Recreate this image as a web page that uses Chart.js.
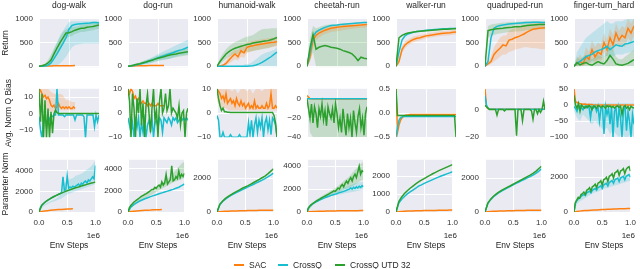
<!DOCTYPE html>
<html><head><meta charset="utf-8">
<script src="https://cdn.jsdelivr.net/npm/chart.js@4"></script>
<style>
body{margin:0;width:640px;height:269px;position:relative;background:#fff;font-family:"Liberation Sans",Arial,Helvetica,sans-serif;color:#262626;overflow:hidden}
canvas{position:absolute}
.t{position:absolute;font-size:8.5px;line-height:10px;white-space:nowrap;transform:translateX(-50%)}
.r{position:absolute;font-size:8.5px;line-height:10px;white-space:nowrap;transform:translate(-50%,-50%) rotate(-90deg)}
.o{position:absolute;font-size:8px;line-height:10px;white-space:nowrap;transform:translateX(-100%)}
.lg{position:absolute;font-size:8.5px;line-height:10px;white-space:nowrap}
.lg i{display:inline-block;width:10px;height:2px;vertical-align:middle;margin-right:5px;position:relative;top:-1px}
</style></head><body>
<script>
// ---------- categories / labels ----------
var TASKS = ['dog-walk','dog-run','humanoid-walk','cheetah-run','walker-run','quadruped-run','finger-turn_hard'];
var KEYS = ['dw','dr','hw','cr','wr','qr','ft'];
var ROWS = ['R','B','P'];
var ROW_LABELS = ['Return','Avg. Norm Q Bias','Parameter Norm'];
var SERIES_NAMES = ['SAC','CrossQ','CrossQ UTD 32'];
var SERIES_KEYS = ['S','C','U'];
var XLABEL = 'Env Steps';
var XOFFSET = '1e6';
var X_TICKS = [0,0.5,1];
// env steps (in 1e6)
var STEPS21 = [0,0.05,0.1,0.15,0.2,0.25,0.3,0.35,0.4,0.45,0.5,0.55,0.6,0.65,0.7,0.75,0.8,0.85,0.9,0.95,1];
var STEPS41 = [0,0.025,0.05,0.075,0.1,0.125,0.15,0.175,0.2,0.225,0.25,0.275,0.3,0.325,0.35,0.375,0.4,0.425,0.45,0.475,0.5,0.525,0.55,0.575,0.6,0.625,0.65,0.675,0.7,0.725,0.75,0.775,0.8,0.825,0.85,0.875,0.9,0.925,0.95,0.975,1];

// ---------- y axes per row ----------
var YMIN_R = [-20,-20,-20,-20,-20,-20,-20];
var YMAX_R = [1000,1000,1000,1000,1000,1000,1000];
var YTICKS_R = [[0,500,1000],[0,500,1000],[0,500,1000],[0,500,1000],[0,500,1000],[0,500,1000],[0,500,1000]];
var YMIN_B = [-14.5,-10,-10,-40,-0.5,-20,-100];
var YMAX_B = [15,10,10,11,0.5,15,50];
var YTICKS_B = [[-10,0,10],[-10,0,10],[-10,0,10],[-40,-20,0],[-0.5,0,0.5],[-20,0],[-100,-50,0,50]];
var YMIN_P = [0,0,0,0,0,0,0];
var YMAX_P = [5050,4850,3080,4560,2920,3080,3000];
var YTICKS_P = [[0,2000,4000],[0,2000,4000],[0,2000],[0,2000,4000],[0,1000,2000],[0,2000],[0,2000]];

// ---------- Return ----------
var R_dw_S = [0,2,5,5,6,8,8,10,10,12,12,12,14];
var R_dw_C = [0,0,5,20,70,160,260,370,480,600,780,860,880,890,895,900,905,910,920,920,910];
var R_dw_C_lo = [0,0,0,0,0,0,20,60,120,200,300,400,450,460,470,480,480,480,480,480,480];
var R_dw_C_hi = [0,5,30,80,200,350,500,650,750,850,930,950,950,950,950,950,950,950,950,950,950];
var R_dw_U = [0,10,30,70,130,260,380,500,600,700,705,730,760,780,800,800,820,830,840,855,870];
var R_dw_U_lo = [0,0,10,30,60,150,250,380,480,580,620,640,680,700,720,720,740,750,760,780,790];
var R_dw_U_hi = [0,30,60,130,250,380,500,620,720,780,800,820,840,850,870,880,890,900,910,920,930];

var R_dr_S = [0,3,6,8,10,12,13,14,15,16,17,18,18];
var R_dr_C = [0,5,15,30,45,65,85,110,130,155,180,200,220,245,265,285,310,335,350,375,400];
var R_dr_C_lo = [0,0,5,10,20,30,40,55,70,90,110,120,130,150,160,180,200,220,230,240,250];
var R_dr_C_hi = [0,10,30,55,75,100,130,160,190,220,260,290,320,350,380,410,440,470,500,530,560];
var R_dr_U = [0,10,25,40,55,75,90,110,125,150,170,185,200,220,235,250,260,275,285,295,305];
var R_dr_U_lo = [0,0,10,20,30,45,55,70,80,100,115,130,140,150,165,180,190,200,210,220,230];
var R_dr_U_hi = [0,20,45,65,85,110,130,150,175,200,225,245,265,285,300,320,335,350,360,370,380];

var R_hw_S = [0,5,20,60,130,200,260,200,330,280,400,420,430,450,460,470,480,490,500,505,515];
var R_hw_S_lo = [0,0,5,20,60,100,150,120,200,180,280,300,320,340,350,370,380,390,400,410,420];
var R_hw_S_hi = [0,15,50,120,210,300,350,330,440,420,500,520,530,550,560,570,580,590,600,600,610];
var R_hw_C = [0,0,0,0,0,0,0,0,0,0,0,5,10,25,50,80,120,160,200,250,300];
var R_hw_C_lo = [0,0,0,0,0,0,0,0,0,0,0,0,0,0,0,0,0,0,0,0,0];
var R_hw_C_hi = [0,0,0,0,0,0,0,20,10,30,50,60,100,150,200,250,280,300,320,350,400];
var R_hw_U = [0,100,180,260,310,350,380,400,420,440,460,470,490,500,510,520,530,540,560,580,610];
var R_hw_U_lo = [0,40,100,150,200,230,250,260,270,290,300,310,320,330,350,360,370,380,400,420,440];
var R_hw_U_hi = [0,170,270,360,420,470,510,540,570,600,620,640,660,700,750,780,790,790,800,800,800];

var R_cr_S = [0,200,550,650,700,730,760,780,800,810,820,830,840,845,850,855,860,865,870,875,880];
var R_cr_S_lo = [0,100,400,550,600,650,680,700,720,730,740,750,760,770,780,790,800,800,810,810,820];
var R_cr_S_hi = [0,300,650,750,780,800,820,840,860,870,880,890,900,900,910,910,920,920,930,930,940];
var R_cr_C = [0,300,620,720,760,790,820,840,860,865,870,880,885,890,895,900,905,910,915,920,920];
var R_cr_U = [0,380,670,360,400,420,436,420,400,390,380,360,330,310,290,260,200,120,190,170,160];
var R_cr_U_lo = [0,100,300,0,0,0,0,0,0,0,0,0,0,0,0,0,0,0,0,0,0];
var R_cr_U_hi = [0,600,850,800,820,850,870,880,880,880,880,880,880,880,880,880,870,860,860,860,860];

var R_wr_S = [0,100,350,450,500,540,570,590,600,620,640,650,660,670,680,690,695,700,705,715,720];
var R_wr_S_lo = [0,50,280,380,440,480,510,530,550,570,590,600,610,620,630,640,645,650,655,665,670];
var R_wr_S_hi = [0,150,420,520,560,600,630,650,660,670,690,700,710,720,730,740,745,750,755,765,770];
var R_wr_C = [0,300,550,640,680,700,720,730,740,750,760,765,770,775,780,785,790,792,795,798,800];
var R_wr_U = [0,600,650,680,700,710,720,730,740,745,750,755,760,765,770,775,780,782,785,788,790];

var R_qr_S = [0,50,100,250,320,380,450,430,550,570,600,620,650,680,720,750,780,790,800,805,810];
var R_qr_S_lo = [0,20,50,100,150,200,250,250,300,320,350,370,380,400,400,390,380,380,370,360,360];
var R_qr_S_hi = [0,100,200,400,500,600,650,650,750,780,800,820,850,870,880,890,900,910,920,920,920];
var R_qr_C = [0,100,600,800,840,860,870,880,890,895,900,905,910,915,920,920,925,925,925,920,920];
var R_qr_U = [0,750,770,780,790,795,800,810,815,820,830,835,840,850,860,865,870,875,880,880,880];
var R_qr_U_lo = [0,600,650,660,680,690,700,710,720,720,730,730,740,750,760,760,770,770,780,780,780];
var R_qr_U_hi = [0,850,880,890,900,910,920,920,930,930,940,940,940,950,950,950,950,950,950,950,950];

var R_ft_S = [0,50,100,50,200,150,350,200,300,250,500,350,600,450,700,550,650,600,800,700,850];
var R_ft_S_lo = [0,0,20,0,50,30,150,80,150,100,300,200,400,300,500,400,450,400,600,500,650];
var R_ft_S_hi = [0,150,250,150,400,300,550,400,500,450,700,550,800,650,900,750,850,800,1000,900,1000];
var R_ft_C = [0,60,100,150,200,230,250,300,330,350,380,420,350,400,450,430,420,470,480,500,520];
var R_ft_C_lo = [0,0,0,20,50,80,100,120,150,170,200,220,180,200,250,250,240,270,280,300,320];
var R_ft_C_hi = [0,300,400,500,600,650,700,750,800,850,900,950,900,900,950,950,950,980,1000,1000,1000];
var R_ft_U = [0,80,30,60,80,40,20,60,100,70,50,120,230,150,50,30,20,40,60,100,140];
var R_ft_U_lo = [0,0,0,0,0,0,0,0,0,0,0,0,0,0,0,0,0,0,0,0,0];
var R_ft_U_hi = [0,200,150,200,250,200,150,200,250,200,200,300,450,350,200,150,150,200,250,300,350];

// ---------- Avg. Norm Q Bias ----------
var B_dw_S = [15,14,12,10,11,9,10,8,5,4,5,3,4,6,4,3,4,3,4,3,4,3,3,4,3];
var B_dw_S_lo = [10,5,3,2,1,1,1,2,2,2,2,2,2];
var B_dw_S_hi = [15,15,15,15,13,12,12,12,11,8,8,7,7];
var B_dw_C = [-2,-10,-15,-5,-3,-8,-2,-4,-1,-2,-1,-1,15,-1,-1,-1,-1,-2,-1,-1,-1,-1,-1,-1,-4,-1,-1,-1,-1,-1,-2,-15,-1,-1,-1,-1,-1,-8,-1,-5,-1];
var B_dw_U = [15,-5,12,-15,8,-15,3,-15,1,-12,0,2,0.5,0,0,0,0,0,0,0,0,0,0,0,0,0,0,0,0,0,0,0,0,0,0,0,0,0,0,0,0];

var B_dr_S = [10,8,10,9,6,7,5,6,5,4,5,4,4,3,4,3,4,3,3,3,4,3,3,3,3];
var B_dr_C = [-2,-5,-8,-4,-10,-3,-6,-2,-10,-4,-8,-3,-10,-5,-3,-7,-2,-10,-4,-3,-6,-2,-3,-8,-2,-3,-4,-2,-3,-5,-2,-3,-2,-4,-3,-2,-3,-2,-3,-2,-3];
var B_dr_U = [10,5,-10,8,2,-10,6,0,10,-5,4,-10,3,8,0,-8,2,10,-3,1,-10,5,10,0,2,8,1,3,10,0,2,1,0,-2,3,-5,0,1,-10,0,2];

var B_hw_S = [10,9,8,6,7,5,8,4,5,6,4,5,3,6,4,3,5,3,4,2,3,4,2,3,2,5,2,3,2,2,3,2,2,4,2,3,8,2,2,3,2];
var B_hw_S_lo = [5,3,2,2,1,1,1,1,1,1,1,1,1,1,1,1,1,1,1,1,1];
var B_hw_S_hi = [10,10,10,10,10,9,10,8,10,10,9,10,8,10,10,9,10,10,10,10,10];
var B_hw_C = [-1,-3,-10,-10,-8,-10,-10,-10,-10,-9,-10,-10,-10,-10,-10,-9,-10,-10,-10,-10,-10,-4,-9,-3,-10,-5,-2,-8,-3,-6,-2,-10,-4,-2,-7,-3,-9,-2,-3,-5,-10];
var B_hw_U = [10,6,3,1,2,0.5,0.5,0.3,0.3,0.2,0.2,0.2,0.2,0.2,0.2,0.2,0.2,0.2,0.2,0.2,0.2,0.2,0.2,0.2,0.2,0.2,0.2,0.2,0.2,0.2,0.2,0.2,0.2,0.2,0.2,0.2,0.2,0.2,-1,-4,-10];

var B_cr_S = [4,0.5,0.3,0.2,0.2,0.2,0.2,0.2,0.2,0.2,0.2,0.2,0.2,0.2,0.2,0.2,0.2,0.2,0.2,0.2,0.2];
var B_cr_C = [0.5,0.5,0.5,0.5,0.5,0.5,0.5,0.5,0.5,0.5,0.5,0.5,0.5,0.5,0.5,0.5,0.5,0.5,0.5,0.5,0.5];
var B_cr_U = [0,-10,-20,-5,-25,-8,-15,-30,-10,-18,-5,-22,-12,-28,-8,-15,-20,-10,-25,-5,-15,-30,-20,-35,-10,-25,-38,-15,-30,-20,-40,-12,-25,-35,-18,-10,-30,-20,-38,-15,-8];
var B_cr_U_lo = [0,-35,-40,-40,-40,-40,-40,-40,-40,-40,-40,-40,-40,-40,-40,-40,-40,-40,-40,-40,-40];
var B_cr_U_hi = [5,0,0,0,0,0,0,0,0,0,0,0,0,0,0,0,0,0,0,0,0];

var B_wr_S = [0.5,-0.4,-0.25,-0.15,-0.1,-0.07,-0.05,-0.04,-0.04,-0.03,-0.03,-0.03,-0.03,-0.03,-0.03,-0.03,-0.03,-0.03,-0.03,-0.03,-0.03,-0.03,-0.03,-0.03,-0.03,-0.03,-0.03,-0.03,-0.03,-0.03,-0.03,-0.03,-0.03,-0.03,-0.03,-0.03,-0.03,-0.03,-0.03,-0.03,-0.03];
var B_wr_C = [-0.5,-0.3,-0.15,-0.1,-0.08,-0.07,-0.07,-0.07,-0.07,-0.07,-0.07,-0.07,-0.07,-0.07,-0.07,-0.07,-0.07,-0.07,-0.07,-0.07,-0.07,-0.07,-0.07,-0.07,-0.07,-0.07,-0.07,-0.07,-0.07,-0.07,-0.07,-0.07,-0.07,-0.07,-0.07,-0.07,-0.07,-0.07,-0.07,-0.07,-0.07];
var B_wr_U = [0.5,-0.05,-0.05,-0.05,-0.05,-0.05,-0.05,-0.05,-0.05,-0.05,-0.05,-0.05,-0.05,-0.05,-0.05,-0.05,-0.05,-0.05,-0.05,-0.05,-0.05,-0.05,-0.05,-0.05,-0.05,-0.05,-0.05,-0.05,-0.05,-0.05,-0.05,-0.05,-0.05,-0.05,-0.05,-0.05,-0.05,-0.05,-0.05,-0.05,-0.5];

var B_qr_S = [15,2,0.5,0.3,0.2,0.2,0.2,0.2,0.2,0.2,0.2,0.2,0.2,0.2,0.2,0.2,0.2,0.2,0.2,0.2,0.2,0.2,0.2,0.2,0.2,0.2,0.2,0.2,0.2,0.2,0.2,0.2,0.2,0.2,0.2,0.2,0.2,0.2,0.2,0.2,0.2];
var B_qr_C = [10,3,1,0.2,0.2,0.2,0.2,0.2,0.2,0.2,0.2,0.2,0.2,0.2,0.2,0.2,0.2,0.2,0.2,0.2,0.2,0.2,0.2,0.2,0.2,0.2,0.2,0.2,0.2,0.2,0.2,0.2,0.2,0.2,0.2,0.2,0.2,0.2,0.2,0.2,0.2];
var B_qr_U = [3,2,1,0,0,0,0,0,-4,0,0,0,0,-1,0,0,0,0,0,0,0,-19,0,0,0,-8,0,0,0,0,0,-1,-7,0,0,-3,0,-2,0,6,0];

var B_ft_S = [50,10,8,5,4,3,2,3,2,1,2,1,1,0,0,0,0,0,0,0,0,0,0,0,0,0,0,0,0,0,0,0,0,0,0,0,0,0,0,0,0];
var B_ft_C = [-5,-10,-20,-5,-3,-8,-15,-5,-10,-3,-5,-40,-5,-10,-3,-20,-5,-50,-10,-8,-90,-5,-30,-10,-60,-5,-100,-20,-8,-70,-10,-40,-100,-15,-5,-80,-20,-50,-100,-30,-60];
var B_ft_C_lo = [-20,-40,-50,-30,-40,-50,-60,-50,-60,-70,-80,-70,-90,-80,-90,-100,-90,-100,-100,-90,-100];
var B_ft_C_hi = [10,5,5,5,5,5,5,5,5,5,5,5,5,5,5,5,5,5,5,5,5];
var B_ft_U = [30,0,-10,5,-20,0,-5,-10,-3,-8,-2,-5,-15,-3,-5,-10,-2,-4,-8,-3,-5,-10,-2,-6,-3,-8,-4,-10,-5,-3,-8,-4,-30,-6,-3,-10,-5,-15,-4,-8,-10];

// ---------- Parameter Norm ----------
var P_dw_S = [0,60,100,130,160,190,210,230,250,270,285,300,310];
var P_dw_C = [0,450,650,800,920,1030,1120,1200,1300,1380,1450,1520,1590,1650,1720,1780,1900,3400,2100,2200,3500,2300,2400,2350,2500,2400,2500,2600,2700,2500,2800,2700,2900,3000,2800,3100,3000,3200,3400,3200,4500];
var P_dw_C_lo = [0,400,600,750,900,1000,1100,1200,1300,1500,1700,1800,1900,2000,2100,2200,2300,2400,2500,2600,2700];
var P_dw_C_hi = [0,550,750,900,1050,1150,1300,1500,1800,2800,3000,3200,3300,3500,3600,3700,3900,4100,4300,4600,5000];
var P_dw_U = [0,650,920,1120,1300,1450,1590,1720,1830,1950,2050,2150,2250,2340,2420,2510,2590,2670,2750,2820,2900];

var P_dr_S = [0,50,80,100,120,140,160,170,180,200,210,220,230];
var P_dr_C = [0,450,680,850,1000,1120,1230,1330,1430,1520,1600,1690,1780,1860,1940,2020,2100,2200,2300,2450,2600];
var P_dr_U = [0,400,600,750,900,1000,1100,1200,1300,1400,1500,1550,1650,1700,1800,1900,2000,2100,2100,2300,2200,2400,2500,2300,2800,2500,2700,3500,2600,2800,3000,4300,2900,3000,3300,3100,3800,3200,3500,3300,3600];
var P_dr_U_lo = [0,350,550,750,950,1100,1250,1400,1550,1700,1850,2000,2150,2300,2450,2600,2750,2850,2950,3050,3150];
var P_dr_U_hi = [0,500,800,1050,1250,1450,1600,1800,1950,2100,2300,2500,2700,2900,3100,3300,3600,3900,4200,4500,4700];

var P_hw_S = [0,20,30,40,50,55,60,65,70,75,80,85,90,92,95,98,100,102,105,108,110];
var P_hw_C = [0,430,620,760,880,980,1070,1160,1240,1320,1400,1480,1560,1640,1720,1800,1880,1970,2070,2180,2300];
var P_hw_U = [0,450,650,800,920,1030,1130,1220,1310,1400,1480,1560,1650,1740,1830,1920,2020,2120,2250,2400,2550];

var P_cr_S = [0,20,40,50,60,70,75,80,85,90,95,100,100,105,110,110,115,120,120,125,130];
var P_cr_C = [0,350,500,600,700,780,850,920,980,1040,1100,1160,1210,1260,1310,1360,1400,1450,1490,1520,1560,1600,1650,1700,1720,1760,1800,1850,1900,1950,2000,2100,2000,2150,2050,2200,2100,2250,2150,2300,2200];
var P_cr_C_lo = [0,300,600,800,950,1050,1150,1250,1350,1400,1450,1500,1550,1600,1650,1700,1750,1800,1850,1900,1950];
var P_cr_C_hi = [0,500,800,1000,1150,1300,1450,1550,1650,1750,1800,1900,2000,2100,2200,2300,2400,2500,2550,2600,2650];
var P_cr_U = [0,350,520,640,740,830,910,990,1060,1130,1200,1270,1340,1400,1470,1540,1600,1700,1750,1850,1800,1950,2100,2000,2250,2400,2200,2500,2700,2500,2800,3000,2700,3100,3300,3000,3500,4000,3300,3600,3500];
var P_cr_U_lo = [0,300,600,850,1000,1150,1250,1350,1450,1550,1650,1750,1850,1950,2050,2150,2250,2400,2550,2700,2850];
var P_cr_U_hi = [0,450,800,1000,1200,1350,1500,1650,1800,1950,2100,2300,2500,2700,2900,3100,3400,3700,3900,4200,4400];

var P_wr_S = [0,20,30,40,50,55,60,65,70,75,80,80,85,90,90,95,95,100,100,105,110];
var P_wr_C = [0,500,710,870,1010,1130,1230,1330,1450,1520,1600,1670,1740,1810,1880,1950,2010,2070,2130,2190,2250];
var P_wr_U = [0,590,840,1030,1190,1330,1450,1570,1680,1780,1870,1960,2050,2140,2220,2300,2370,2440,2510,2580,2650];

var P_qr_S = [0,20,30,40,50,55,60,65,70,75,80,85,90,92,95,98,100,102,105,108,110];
var P_qr_C = [0,500,730,900,1030,1150,1250,1340,1430,1510,1600,1690,1770,1850,1930,2010,2090,2180,2280,2400,2550];
var P_qr_U = [0,520,760,930,1070,1190,1290,1380,1470,1550,1640,1730,1820,1910,2000,2090,2180,2280,2400,2550,2700];

var P_ft_S = [0,30,50,70,80,90,100,110,120,130,140,150,155,160,170,175,180,185,190,195,200];
var P_ft_C = [0,500,650,750,800,900,950,1000,950,1100,1150,1200,1100,1250,1300,1350,1250,1400,1450,1500,1350,1550,1600,1650,1500,1700,1750,1800,1650,1850,1900,1950,1750,1950,2000,2050,1850,2050,2100,2150,2000];
var P_ft_C_lo = [0,450,600,700,800,900,1000,1100,1150,1200,1300,1350,1400,1450,1500,1550,1600,1650,1700,1750,1800];
var P_ft_C_hi = [0,650,850,1000,1100,1200,1300,1400,1500,1600,1700,1750,1800,1850,1900,1950,2000,2050,2100,2150,2200];
var P_ft_U = [0,550,700,850,800,1000,1050,1150,1000,1250,1300,1400,1200,1450,1500,1600,1400,1650,1700,1800,1550,1850,1900,2000,1750,2050,2100,2200,1950,2250,2300,2400,2100,2350,2400,2500,2200,2450,2550,2600,2350];

// ---------- styling / layout ----------
var COLORS = ['#ff7f0e','#17becf','#2ca02c'];
var BANDS = ['rgba(255,127,14,0.2)','rgba(23,190,207,0.2)','rgba(44,160,44,0.2)'];
var PLOT_L = [39,128,217,307,396,485,574], PLOT_W = 60;
var PLOT_T = [14,84,155], PLOT_H = [58,58,57];
var YAXIS_W = 36, PAD_T = 6, PAD_R = 8;
var XAXIS_H = [0,0,20], PAD_B = [6,6,0];

Chart.defaults.font.family = '"Liberation Sans", Arial, Helvetica, sans-serif';
Chart.defaults.font.size = 8;
Chart.defaults.color = '#333';

var bgPlugin = {id:'bg', beforeDraw: function(c){
  var a = c.chartArea, x = c.ctx; x.save(); x.fillStyle = '#EAEAF2';
  x.fillRect(a.left, a.top, a.right - a.left, a.bottom - a.top); x.restore();
}};

function pts(arr){ var st = arr.length > 21 ? STEPS41 : STEPS21; return arr.map(function(y,i){ return {x: st[i], y: y}; }); }
function fmt(v, r, c){
  var s = (r === 1 && KEYS[c] === 'wr') ? v.toFixed(1) : String(v);
  return s.replace('-', '\u2212');
}

function addText(cls, txt, left, top){
  var d = document.createElement('div'); d.className = cls; d.textContent = txt;
  d.style.left = left + 'px'; d.style.top = top + 'px'; document.body.appendChild(d); return d;
}

var YMIN = [YMIN_R, YMIN_B, YMIN_P], YMAX = [YMAX_R, YMAX_B, YMAX_P], YTICKS = [YTICKS_R, YTICKS_B, YTICKS_P];

for (var r = 0; r < 3; r++) {
  for (var c = 0; c < 7; c++) {
    (function(r, c){
      var cv = document.createElement('canvas');
      var W = YAXIS_W + PLOT_W + PAD_R, H = PAD_T + PLOT_H[r] + XAXIS_H[r] + PAD_B[r];
      cv.width = W; cv.height = H; cv.style.width = W + 'px'; cv.style.height = H + 'px';
      cv.style.left = (PLOT_L[c] - YAXIS_W) + 'px'; cv.style.top = (PLOT_T[r] - PAD_T) + 'px';
      document.body.appendChild(cv);
      var datasets = [];
      SERIES_KEYS.forEach(function(s, si){
        var base = ROWS[r] + '_' + KEYS[c] + '_' + s;
        var lo = window[base + '_lo'], hi = window[base + '_hi'];
        if (lo && hi) {
          datasets.push({data: pts(lo), borderWidth: 0, borderColor: 'rgba(0,0,0,0)', pointRadius: 0, fill: false, order: 10 + si});
          datasets.push({data: pts(hi), borderWidth: 0, borderColor: 'rgba(0,0,0,0)', pointRadius: 0, fill: '-1', backgroundColor: BANDS[si], order: 10 + si});
        }
      });
      SERIES_KEYS.forEach(function(s, si){
        var arr = window[ROWS[r] + '_' + KEYS[c] + '_' + s];
        if (arr) datasets.push({label: SERIES_NAMES[si], data: pts(arr), borderColor: COLORS[si], borderWidth: 1.5, pointRadius: 0, fill: false, order: 3 - si});
      });
      var yt = YTICKS[r][c];
      new Chart(cv, {
        type: 'line',
        data: {datasets: datasets},
        plugins: [bgPlugin],
        options: {
          responsive: false, animation: false, events: [],
          layout: {padding: {top: PAD_T, right: PAD_R, bottom: PAD_B[r], left: 0}},
          plugins: {legend: {display: false}, tooltip: {enabled: false}},
          elements: {point: {radius: 0}, line: {tension: 0}},
          scales: {
            x: {type: 'linear', min: 0, max: 1, border: {display: false},
                grid: {color: '#ffffff', lineWidth: 1, drawTicks: false},
                ticks: {display: r === 2, padding: 6, maxRotation: 0, color: '#333', callback: function(v){ return v.toFixed(1); }},
                afterBuildTicks: function(s){ s.ticks = X_TICKS.map(function(v){ return {value: v}; }); },
                afterFit: function(s){ s.height = XAXIS_H[r]; }},
            y: {type: 'linear', min: YMIN[r][c], max: YMAX[r][c], border: {display: false},
                grid: {color: '#ffffff', lineWidth: 1, drawTicks: false},
                ticks: {padding: 6, color: '#333', callback: function(v){ return fmt(v, r, c); }},
                afterBuildTicks: function(s){ s.ticks = yt.map(function(v){ return {value: v}; }); },
                afterFit: function(s){ s.width = YAXIS_W; }}
          }
        }
      });
    })(r, c);
  }
}

// titles, axis labels
TASKS.forEach(function(t, c){
  addText('t', t, PLOT_L[c] + PLOT_W / 2, 0);
  addText('t', XLABEL, PLOT_L[c] + PLOT_W / 2, 240);
  addText('o', XOFFSET, PLOT_L[c] + PLOT_W + 1, 231);
});
var RL_X = [5, 8, 5];
ROW_LABELS.forEach(function(l, r){ addText('r', l, RL_X[r], PLOT_T[r] + PLOT_H[r] / 2); });

// legend
var LEG_X = [234, 278, 335];
SERIES_NAMES.forEach(function(n, i){
  var d = document.createElement('div'); d.className = 'lg';
  d.style.left = LEG_X[i] + 'px'; d.style.top = '260px';
  var sw = document.createElement('i'); sw.style.background = COLORS[i];
  d.appendChild(sw); d.appendChild(document.createTextNode(n));
  document.body.appendChild(d);
});
</script>
</body></html>
